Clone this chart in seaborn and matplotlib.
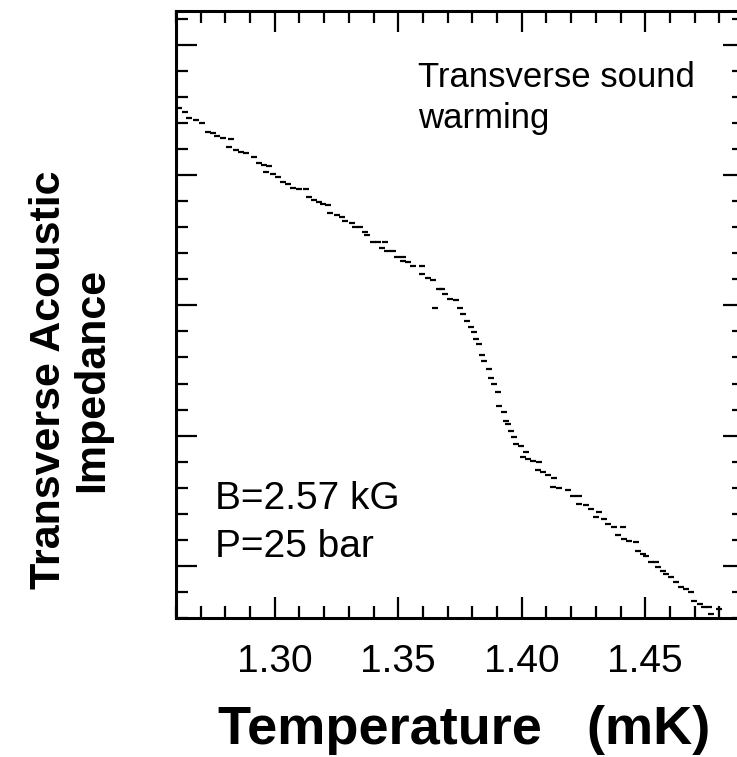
import numpy as np
import pandas as pd
import matplotlib
matplotlib.use("Agg")
import matplotlib.pyplot as plt
from matplotlib.ticker import MultipleLocator, NullFormatter
import seaborn as sns

# Temperature (mK) and transverse acoustic impedance (arb. units), warming sweep
temperature = [
    1.2614, 1.2638, 1.2654, 1.2683, 1.2707, 1.2728, 1.2748, 1.2768, 1.2789, 1.2821,
    1.2813, 1.2841, 1.2862, 1.2882, 1.2915, 1.2935, 1.2955, 1.2976, 1.2963, 1.2992,
    1.3012, 1.3033, 1.3053, 1.3073, 1.3098, 1.3126, 1.3138, 1.3159, 1.3179, 1.3195,
    1.3215, 1.3224, 1.3252, 1.3272, 1.3285, 1.3313, 1.3325, 1.3346, 1.3366, 1.3374,
    1.3398, 1.3419, 1.3447, 1.3435, 1.3455, 1.3480, 1.3496, 1.3520, 1.3520, 1.3541,
    1.3561, 1.3598, 1.3598, 1.3622, 1.3642, 1.3663, 1.3679, 1.3691, 1.3711, 1.3732,
    1.3650, 1.3752, 1.3764, 1.3780, 1.3793, 1.3805, 1.3813, 1.3825, 1.3841, 1.3846,
    1.3866, 1.3874, 1.3886, 1.3902, 1.3907, 1.3927, 1.3935, 1.3943, 1.3955, 1.3967,
    1.3976, 1.3996, 1.4016, 1.4004, 1.4024, 1.4045, 1.4069, 1.4065, 1.4085, 1.4106,
    1.4130, 1.4126, 1.4150, 1.4187, 1.4207, 1.4232, 1.4232, 1.4260, 1.4280, 1.4313,
    1.4301, 1.4333, 1.4350, 1.4374, 1.4411, 1.4390, 1.4415, 1.4435, 1.4463, 1.4472,
    1.4492, 1.4504, 1.4524, 1.4545, 1.4553, 1.4573, 1.4585, 1.4606, 1.4626, 1.4646,
    1.4667, 1.4687, 1.4699, 1.4720, 1.4740, 1.4760, 1.4768, 1.4797,
]
impedance = [
    3.517, 3.487, 3.441, 3.425, 3.402, 3.333, 3.326, 3.303, 3.287, 3.280,
    3.218, 3.195, 3.180, 3.172, 3.142, 3.096, 3.080, 3.073, 3.027, 3.011,
    2.989, 2.950, 2.935, 2.904, 2.897, 2.897, 2.835, 2.812, 2.797, 2.782,
    2.774, 2.713, 2.697, 2.682, 2.644, 2.636, 2.605, 2.598, 2.567, 2.544,
    2.490, 2.483, 2.483, 2.437, 2.414, 2.414, 2.375, 2.375, 2.337, 2.330,
    2.299, 2.299, 2.238, 2.207, 2.192, 2.123, 2.123, 2.084, 2.046, 2.038,
    1.977, 1.977, 1.931, 1.877, 1.831, 1.793, 1.739, 1.701, 1.617, 1.571,
    1.510, 1.441, 1.395, 1.333, 1.226, 1.180, 1.111, 1.088, 1.034, 0.989,
    0.935, 0.920, 0.874, 0.835, 0.820, 0.805, 0.797, 0.736, 0.720, 0.697,
    0.674, 0.605, 0.598, 0.582, 0.536, 0.536, 0.475, 0.467, 0.437, 0.414,
    0.375, 0.360, 0.322, 0.299, 0.299, 0.238, 0.207, 0.192, 0.184, 0.115,
    0.092, 0.077, 0.031, 0.031, -0.008, -0.038, -0.061, -0.084, -0.123, -0.161,
    -0.176, -0.199, -0.268, -0.291, -0.314, -0.314, -0.368, -0.330,
]
xtick_values = [1.30, 1.35, 1.40, 1.45]
xtick_labels = ["1.30", "1.35", "1.40", "1.45"]

sns.set_theme(style="white")
plt.rcParams["font.family"] = ["Liberation Sans", "DejaVu Sans"]

W, H = 737, 757
fig = plt.figure(figsize=(W / 100, H / 100), dpi=100)
fig.patch.set_facecolor("white")

# plot frame in pixel terms; right edge runs past the canvas
left_px, right_px, top_px, bottom_px = 176, 744, 11, 618
ax = fig.add_axes([left_px / W, 1 - bottom_px / H,
                   (right_px - left_px) / W, (bottom_px - top_px) / H])

df = pd.DataFrame({"T": temperature, "Z": impedance})
sns.scatterplot(data=df, x="T", y="Z", ax=ax, marker="_", s=22,
                color="black", linewidth=1.6, legend=False)

ax.set_xlim(1.26, 1.49)
ax.set_ylim(-0.4, 4.26)
ax.set_xlabel("")
ax.set_ylabel("")

ax.set_xticks(xtick_values)
ax.set_xticklabels(xtick_labels)
ax.xaxis.set_minor_locator(MultipleLocator(0.01))
ax.yaxis.set_major_locator(MultipleLocator(1.0))
ax.yaxis.set_minor_locator(MultipleLocator(0.2))
ax.yaxis.set_major_formatter(NullFormatter())

ax.tick_params(which="both", direction="in", top=True, right=True,
               bottom=True, left=True, color="black")
ax.tick_params(which="major", length=15, width=1.6)
ax.tick_params(which="minor", length=8.5, width=1.6)
ax.tick_params(axis="x", which="major", labelsize=28, pad=19, labelcolor="black")

for sp in ax.spines.values():
    sp.set_visible(True)
    sp.set_color("black")
    sp.set_linewidth(2.2)

ax.grid(False)

# annotations
fig.text(418 / W, 1 - 87 / H, "Transverse sound", fontsize=25,
         ha="left", va="baseline", color="black")
fig.text(418 / W, 1 - 128 / H, "warming", fontsize=25,
         ha="left", va="baseline", color="black")
fig.text(215 / W, 1 - 509 / H, "B=2.57 kG", fontsize=28,
         ha="left", va="baseline", color="black")
fig.text(215 / W, 1 - 557 / H, "P=25 bar", fontsize=28,
         ha="left", va="baseline", color="black")

# axis titles
fig.text(464 / W, 1 - 730 / H, "Temperature   (mK)", fontsize=39,
         fontweight="bold", ha="center", va="center", color="black")
fig.text(71 / W, 1 - 380 / H, "Transverse Acoustic\nImpedance", fontsize=31,
         fontweight="bold", rotation=90, ha="center", va="center",
         multialignment="center", linespacing=1.1, color="black")

fig.savefig("out.png", dpi=100, facecolor="white")
